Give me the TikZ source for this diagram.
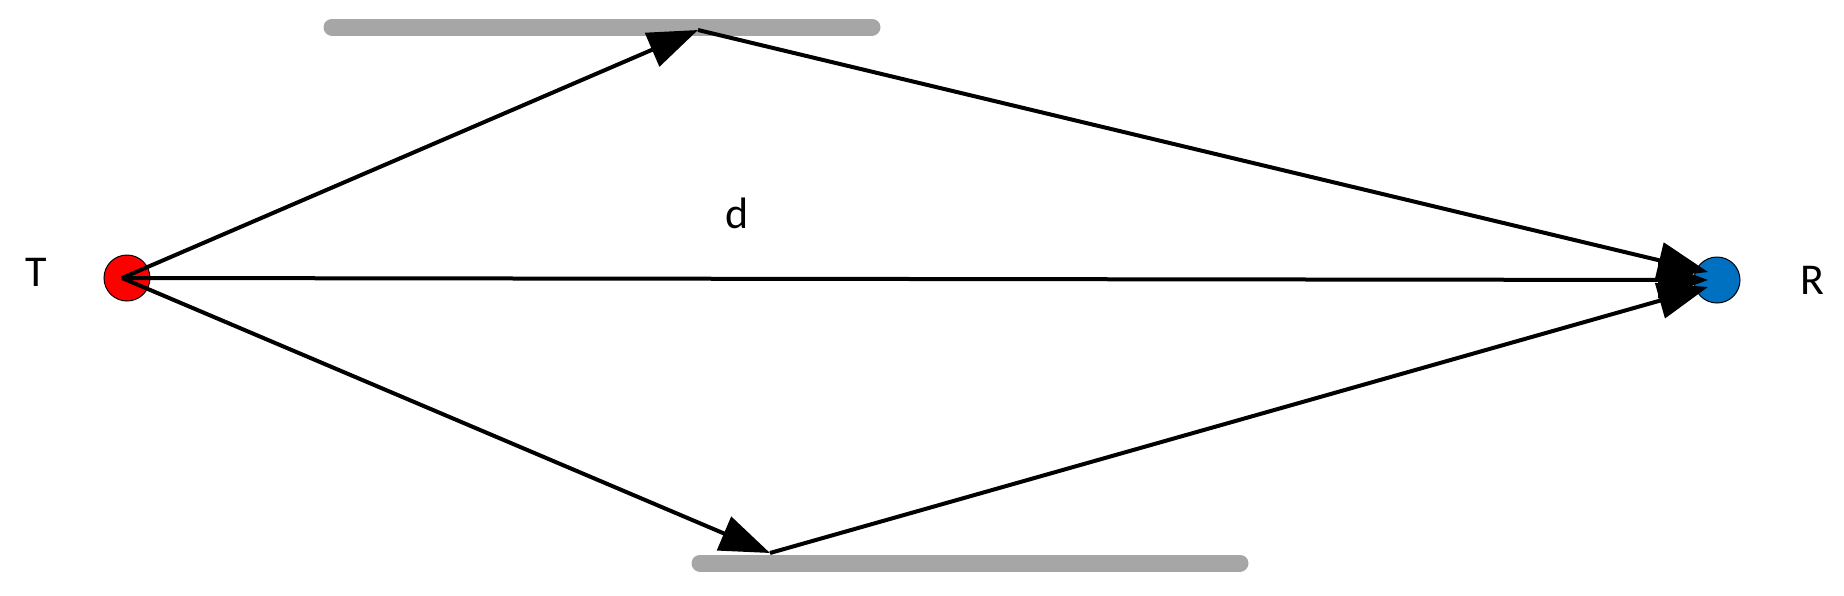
\documentclass[tikz,border=0pt]{standalone}
\usepackage{fontspec}
\setmainfont{Carlito}
\usetikzlibrary{arrows.meta}
\tikzset{
  ray/.style={line width=4pt, -{Triangle[length=50pt,width=36pt]}},
  wall/.style={line width=17pt, line cap=round, draw={rgb,255:red,166;green,166;blue,166}},
  lbl/.style={font=\fontsize{44}{50}\selectfont, inner sep=0pt}
}
\begin{document}
\begin{tikzpicture}[x=1pt,y=-1pt]
\useasboundingbox (0,0) rectangle (1844,595);
\definecolor{rblue}{RGB}{0,112,192}
\draw[wall] (332,27) -- (872,27);
\draw[wall] (700,563) -- (1240,563);
\node[circle, fill=red, draw=black, line width=1pt, minimum size=46pt, inner sep=0pt] (T) at (127,278) {};
\node[circle, fill=rblue, draw=black, line width=1pt, minimum size=46pt, inner sep=0pt] (R) at (1717,280) {};
\node[lbl] (tl) at (36,272) {T};
\node[lbl] (rl) at (1812,280) {R};
\node[lbl] (dl) at (737,213) {d};
\coordinate (A) at (698,30);
\coordinate (B) at (770,553);
\coordinate (Ts) at (122,278);
\coordinate (R1) at (1708,272);
\coordinate (R2) at (1708,280);
\coordinate (R3) at (1708,287);
\draw[ray] (Ts) -- (A);
\draw[ray] (A) -- (R1);
\draw[ray] (Ts) -- (B);
\draw[ray] (B) -- (R3);
\draw[ray] (Ts) -- (R2);
\end{tikzpicture}
\end{document}
